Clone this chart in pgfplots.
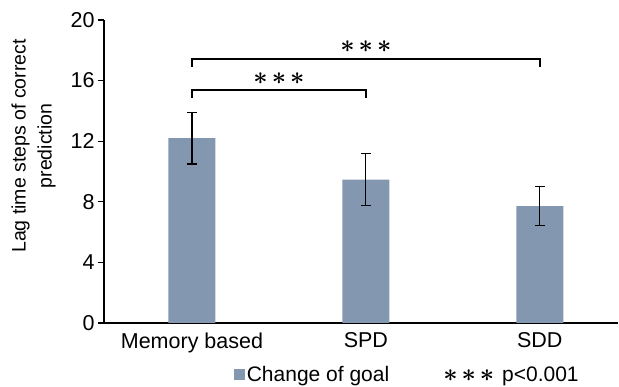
\documentclass[border=0pt]{standalone}
\usepackage{pgfplots}
\pgfplotsset{compat=1.18}
\usepackage{fontspec}
\setmainfont{Liberation Sans}
\definecolor{barcol}{RGB}{132,151,176}
\newcommand{\stars}{{\fontsize{25}{25}\selectfont\boldmath${\ast}\kern4pt{\ast}\kern4pt{\ast}$}}
\begin{document}
\begin{tikzpicture}
\useasboundingbox (-104pt,-64pt) rectangle (515pt,323pt);
\begin{axis}[
  scale only axis, width=514pt, height=303pt,
  xmin=-0.506, xmax=2.45, ymin=0, ymax=20,
  axis x line*=bottom, axis y line*=left,
  axis line style={line width=1.2pt, -},
  xtick={0,1,2}, xticklabels={Memory based, SPD, SDD},
  x tick style={draw=none},
  ytick={0,4,...,20}, tick align=outside, major tick length=6pt,
  y tick style={line width=1.2pt, black},
  ticklabel style={font=\fontsize{21.5}{25}\selectfont},
  /pgf/number format/assume math mode=true,
  ylabel style={align=center, font=\fontsize{19.5}{26}\selectfont, at={(ticklabel cs:0.584)}},
  ylabel shift=8pt,
  ylabel={Lag time steps of correct\\prediction},
  legend columns=2,
  legend style={draw=none, at={(0.59,-0.17)}, anchor=center,
    font=\fontsize{21}{25}\selectfont,
    /tikz/every even column/.append style={column sep=50pt}},
]
\addplot[ybar, bar width=47pt, fill=barcol, draw=none,
  legend image code/.code={\fill[barcol] (0pt,-5.5pt) rectangle (11pt,5.5pt);},
  error bars/.cd, y dir=both, y explicit,
  error bar style={line width=1.2pt, black},
  error mark options={rotate=90, mark size=5pt, line width=1.2pt, black}]
  coordinates {(0,12.2) +- (0,1.7) (1,9.47) +- (0,1.7) (2,7.72) +- (0,1.3)};
\addlegendentry{Change of goal}
\addlegendimage{empty legend}
\addlegendentry{\stars\hspace{8pt}p<0.001}
\addplot[black, line width=1.5pt, forget plot] coordinates {(0,16.9) (0,17.43) (2,17.43) (2,16.9)};
\addplot[black, line width=1.5pt, forget plot] coordinates {(0,14.85) (0,15.38) (1,15.38) (1,14.85)};
\node at (axis cs:1,18.22) {\stars};
\node at (axis cs:0.5,16.1) {\stars};
\end{axis}
\end{tikzpicture}
\end{document}
